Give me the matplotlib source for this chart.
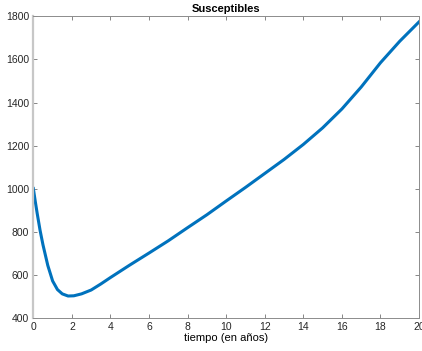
import matplotlib.pyplot as plt

# values
t = [0, 0.1, 0.2, 0.35, 0.5, 0.75, 1.0, 1.25, 1.5, 1.8, 2.1, 2.5, 3.0, 3.5,
     4, 5, 6, 7, 8, 9, 10, 11, 12, 13, 14, 15, 16, 17, 18, 19, 20]
S = [1000, 940, 884, 805, 738, 642, 570, 530, 510, 500, 501, 510, 528, 556,
     586, 644, 700, 757, 818, 878, 942, 1005, 1070, 1135, 1205, 1282, 1370,
     1472, 1585, 1685, 1775]
xticks = list(range(0, 21, 2))
yticks = list(range(400, 1801, 200))

plt.rcParams['font.family'] = ['Liberation Sans', 'DejaVu Sans']

fig = plt.figure(figsize=(4.22, 3.51), dpi=100)
ax = fig.add_axes([0.079, 0.0954, 0.914, 0.8576])
ax.plot(t, S, color='#0072BD', lw=2.2, solid_joinstyle='round')
ax.set_xlim(0, 20)
ax.set_ylim(400, 1800)
ax.set_xticks(xticks)
ax.set_yticks(yticks)
ax.tick_params(direction='in', length=3, width=0.6, colors='0.45',
               labelcolor='#262626', labelsize=7.5, top=True, right=True, pad=3)
for side in ['top', 'right', 'bottom']:
    ax.spines[side].set_color('0.55')
    ax.spines[side].set_linewidth(0.7)
ax.spines['left'].set_color('0.78')
ax.spines['left'].set_linewidth(1.6)
ax.set_title('Susceptibles', fontsize=8, fontweight='bold', pad=3)
ax.set_xlabel('tiempo (en años)', fontsize=8, labelpad=1)

fig.savefig('out.png', dpi=100)
